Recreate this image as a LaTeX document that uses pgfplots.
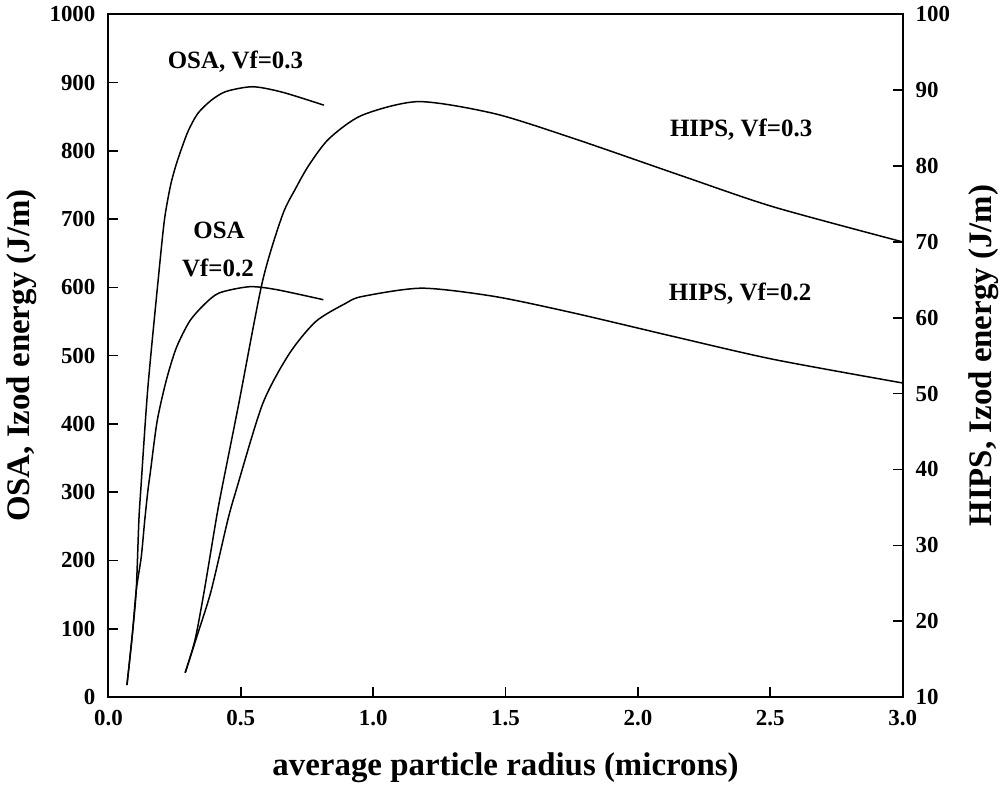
\documentclass[border=0pt]{standalone}
\usepackage{fontspec}
\setmainfont{Liberation Serif}
\usepackage{pgfplots}
\pgfplotsset{compat=1.18}
\begin{document}
\begin{tikzpicture}
\pgfplotsset{
  common/.style={
    scale only axis, width=398.5pt, height=342.5pt,
    xmin=0, xmax=3,
    tick align=inside, major tick length=5pt,
    axis line style={line width=1pt},
    every tick/.style={black, line width=0.8pt},
    scaled ticks=false,
    /pgf/number format/assume math mode=true,
    /pgf/number format/1000 sep={},
    ticklabel style={font=\fontsize{11.5}{13}\selectfont\bfseries},
    label style={font=\fontsize{16.5}{19}\selectfont\bfseries},
  },
  curve/.style={black, line width=0.75pt, smooth, tension=0.45, no markers},
}
\begin{axis}[common,
  ymin=0, ymax=1000,
  xtick={0,0.5,1,1.5,2,2.5,3},
  ytick={0,100,...,1000},
  xtick pos=bottom, ytick pos=left,
  xticklabel style={/pgf/number format/fixed, /pgf/number format/fixed zerofill, /pgf/number format/precision=1, yshift=-3pt},
  yticklabel style={xshift=-3pt},
  xlabel={average particle radius (microns)},
  ylabel={OSA, Izod energy (J/m)},
  xlabel style={at={(axis description cs:0.5,-0.1036)}, anchor=center},
  ylabel style={at={(axis description cs:-0.1092,0.5)}, anchor=center},
]
% OSA Vf=0.3
\addplot[curve] coordinates {
(0.070,17.5) (0.090,90) (0.105,156) (0.115,258) (0.122,302) (0.149,453) (0.191,623)
(0.212,700) (0.235,750) (0.260,785) (0.300,828) (0.338,855) (0.388,874) (0.444,887)
(0.545,894) (0.657,886) (0.814,867)};
% OSA Vf=0.2
\addplot[curve] coordinates {
(0.070,17.5) (0.090,90) (0.105,156) (0.124,205) (0.137,258) (0.149,302) (0.159,331) (0.184,404)
(0.218,463) (0.256,511) (0.306,550) (0.362,575) (0.419,592) (0.532,601)
(0.632,597) (0.812,582)};
\node[font=\fontsize{12.5}{15}\selectfont\bfseries] at (axis cs:0.48,931) {OSA, Vf=0.3};
\node[font=\fontsize{12.5}{15}\selectfont\bfseries] at (axis cs:0.418,683) {OSA};
\node[font=\fontsize{12.5}{15}\selectfont\bfseries] at (axis cs:0.414,628) {Vf=0.2};
\node[font=\fontsize{12.5}{15}\selectfont\bfseries] at (axis cs:2.39,831) {HIPS, Vf=0.3};
\node[font=\fontsize{12.5}{15}\selectfont\bfseries] at (axis cs:2.386,591) {HIPS, Vf=0.2};
\end{axis}
\begin{axis}[common,
  ymin=10, ymax=100,
  ytick={10,20,...,100},
  axis x line=none,
  axis y line*=right,
  yticklabel style={xshift=3pt},
  ylabel={HIPS, Izod energy (J/m)},
  ylabel style={at={(axis description cs:1.1016,0.5)}, anchor=center},
]
% HIPS Vf=0.3
\addplot[curve] coordinates {
(0.290,13.2) (0.327,17.5) (0.362,24.0) (0.406,33.2) (0.427,37.2) (0.492,48.6)
(0.582,64.8) (0.657,73.5) (0.708,77.1) (0.757,80.1) (0.833,83.6) (0.958,86.7)
(1.172,88.5) (1.460,86.9) (1.761,83.6) (2.175,78.6) (2.514,74.6) (3.000,70.0)};
% HIPS Vf=0.2
\addplot[curve] coordinates {
(0.290,13.2) (0.338,18.4) (0.388,24.0) (0.450,33.2) (0.482,37.2) (0.582,48.6)
(0.682,55.2) (0.783,59.5) (0.896,61.9) (0.958,62.8) (1.184,63.9) (1.460,62.8)
(1.761,60.6) (2.138,57.5) (2.514,54.5) (3.000,51.4)};
\end{axis}
\end{tikzpicture}
\end{document}
